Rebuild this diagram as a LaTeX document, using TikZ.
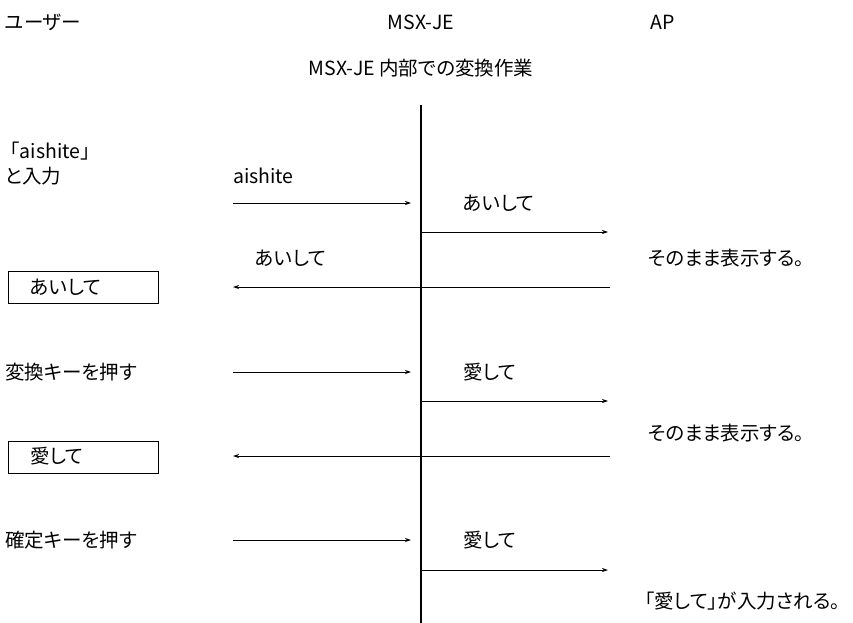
\documentclass[tikz,border=0pt]{standalone}
\usepackage{fontspec}
\setmainfont[RawFeature=+palt]{Noto Sans CJK JP}
\newfontfamily\fixedjp{Noto Sans CJK JP}
\usetikzlibrary{arrows.meta}
\begin{document}
\begin{tikzpicture}[x=1pt,y=-1pt,
  lbl/.style={inner sep=0pt,anchor=west,font=\fontsize{19.5}{23}\selectfont},
  ttl/.style={inner sep=0pt,font=\fontsize{19.5}{23}\selectfont},
  flow/.style={line width=0.8pt,-{Stealth[length=6pt,width=4pt]}},
  shown/.style={draw,line width=0.8pt,minimum width=150pt,minimum height=32pt,anchor=north west,inner sep=0pt}]
\useasboundingbox (0,0) rectangle (853,623);
% headings
\node[lbl] (user) at (5,22) {ユーザー};
\node[ttl] (msx) at (421,22) {MSX-JE};
\node[lbl] (ap) at (650,22) {AP};
\node[ttl] (inner) at (421,68) {MSX-JE 内部での変換作業};
% lifeline
\coordinate (ltop) at (421,105);
\coordinate (lbot) at (421,623);
\draw[line width=1.4pt] (ltop) -- (lbot);
% step 1
\node[lbl,font=\fixedjp\fontsize{19.5}{23}\selectfont] (u1a) at (0,151) {「aishite」};
\node[lbl] (u1b) at (5,176) {と入力};
\node[lbl] (m1) at (233,176) {aishite};
\coordinate (a1s) at (233,203); \coordinate (a1e) at (411,203);
\draw[flow] (a1s) -- (a1e);
\node[lbl] (k1) at (463,203) {あいして};
\coordinate (a2s) at (421,232); \coordinate (a2e) at (608,232);
\draw[flow] (a2s) -- (a2e);
\node[lbl] (r1) at (255,258) {あいして};
\node[lbl] (ap1) at (648,258) {そのまま表示する。};
\node[shown] (box1) at (8,271) {};
\node[lbl] (box1t) at (30,287) {あいして};
\coordinate (a3s) at (610,287); \coordinate (a3e) at (233,287);
\draw[flow] (a3s) -- (a3e);
% step 2
\node[lbl] (u2) at (5,372) {変換キーを押す};
\coordinate (a4s) at (233,372); \coordinate (a4e) at (411,372);
\draw[flow] (a4s) -- (a4e);
\node[lbl] (k2) at (463,372) {愛して};
\coordinate (a5s) at (421,401); \coordinate (a5e) at (608,401);
\draw[flow] (a5s) -- (a5e);
\node[lbl] (ap2) at (648,433) {そのまま表示する。};
\node[shown] (box2) at (8,441) {};
\node[lbl] (box2t) at (30,456) {愛して};
\coordinate (a6s) at (610,456); \coordinate (a6e) at (233,456);
\draw[flow] (a6s) -- (a6e);
% step 3
\node[lbl] (u3) at (5,540) {確定キーを押す};
\coordinate (a7s) at (233,540); \coordinate (a7e) at (411,540);
\draw[flow] (a7s) -- (a7e);
\node[lbl] (k3) at (463,540) {愛して};
\coordinate (a8s) at (421,570); \coordinate (a8e) at (608,570);
\draw[flow] (a8s) -- (a8e);
\node[lbl] (ap3) at (645,601) {「愛して」が入力される。};
\end{tikzpicture}
\end{document}
